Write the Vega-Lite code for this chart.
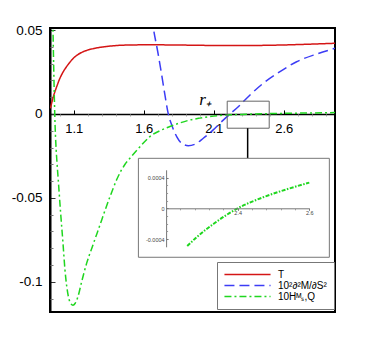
{
  "$schema": "https://vega.github.io/schema/vega-lite/v6.json",
  "width": 285,
  "height": 284,
  "autosize": {"type": "none"},
  "padding": {"left": 50, "top": 28, "right": 47, "bottom": 28},
  "background": "white",
  "config": {"view": {"stroke": "black", "strokeWidth": 2}, "font": "Liberation Sans"},
  "layer": [
    {
      "data": {"values": [
        {"r": 0.933, "v": 0.0034, "s": "T"},
        {"r": 0.954, "v": 0.0103, "s": "T"},
        {"r": 0.978, "v": 0.0163, "s": "T"},
        {"r": 1.001, "v": 0.0213, "s": "T"},
        {"r": 1.025, "v": 0.0252, "s": "T"},
        {"r": 1.061, "v": 0.0296, "s": "T"},
        {"r": 1.096, "v": 0.0331, "s": "T"},
        {"r": 1.132, "v": 0.0355, "s": "T"},
        {"r": 1.18, "v": 0.0375, "s": "T"},
        {"r": 1.251, "v": 0.0391, "s": "T"},
        {"r": 1.346, "v": 0.0403, "s": "T"},
        {"r": 1.466, "v": 0.041, "s": "T"},
        {"r": 1.644, "v": 0.0412, "s": "T"},
        {"r": 1.9, "v": 0.041, "s": "T"},
        {"r": 2.12, "v": 0.0408, "s": "T"},
        {"r": 2.36, "v": 0.0408, "s": "T"},
        {"r": 2.6, "v": 0.0411, "s": "T"},
        {"r": 2.8, "v": 0.0416, "s": "T"},
        {"r": 2.966, "v": 0.0421, "s": "T"},
        {"r": 1.655, "v": 0.058, "s": "D"},
        {"r": 1.668, "v": 0.0512, "s": "D"},
        {"r": 1.704, "v": 0.0351, "s": "D"},
        {"r": 1.728, "v": 0.0232, "s": "D"},
        {"r": 1.751, "v": 0.0113, "s": "D"},
        {"r": 1.775, "v": 0.0, "s": "D"},
        {"r": 1.799, "v": -0.0065, "s": "D"},
        {"r": 1.835, "v": -0.0135, "s": "D"},
        {"r": 1.871, "v": -0.0175, "s": "D"},
        {"r": 1.918, "v": -0.0189, "s": "D"},
        {"r": 1.966, "v": -0.018, "s": "D"},
        {"r": 2.025, "v": -0.0145, "s": "D"},
        {"r": 2.096, "v": -0.0095, "s": "D"},
        {"r": 2.156, "v": -0.0046, "s": "D"},
        {"r": 2.216, "v": 0.0, "s": "D"},
        {"r": 2.275, "v": 0.0043, "s": "D"},
        {"r": 2.359, "v": 0.0113, "s": "D"},
        {"r": 2.454, "v": 0.0183, "s": "D"},
        {"r": 2.573, "v": 0.0252, "s": "D"},
        {"r": 2.692, "v": 0.0311, "s": "D"},
        {"r": 2.835, "v": 0.0357, "s": "D"},
        {"r": 2.966, "v": 0.0391, "s": "D"},
        {"r": 0.947, "v": 0.065, "s": "H"},
        {"r": 0.951, "v": 0.0512, "s": "H"},
        {"r": 0.956, "v": 0.03, "s": "H"},
        {"r": 0.961, "v": 0.01, "s": "H"},
        {"r": 0.966, "v": -0.006, "s": "H"},
        {"r": 0.972, "v": -0.018, "s": "H"},
        {"r": 0.98, "v": -0.029, "s": "H"},
        {"r": 0.989, "v": -0.0393, "s": "H"},
        {"r": 1.006, "v": -0.0591, "s": "H"},
        {"r": 1.021, "v": -0.075, "s": "H"},
        {"r": 1.037, "v": -0.0929, "s": "H"},
        {"r": 1.061, "v": -0.1087, "s": "H"},
        {"r": 1.078, "v": -0.1128, "s": "H"},
        {"r": 1.094, "v": -0.114, "s": "H"},
        {"r": 1.11, "v": -0.1128, "s": "H"},
        {"r": 1.13, "v": -0.1088, "s": "H"},
        {"r": 1.156, "v": -0.1, "s": "H"},
        {"r": 1.192, "v": -0.0889, "s": "H"},
        {"r": 1.235, "v": -0.0785, "s": "H"},
        {"r": 1.275, "v": -0.069, "s": "H"},
        {"r": 1.359, "v": -0.0492, "s": "H"},
        {"r": 1.41, "v": -0.0385, "s": "H"},
        {"r": 1.466, "v": -0.03, "s": "H"},
        {"r": 1.501, "v": -0.0264, "s": "H"},
        {"r": 1.573, "v": -0.0195, "s": "H"},
        {"r": 1.644, "v": -0.0135, "s": "H"},
        {"r": 1.72, "v": -0.0098, "s": "H"},
        {"r": 1.787, "v": -0.0075, "s": "H"},
        {"r": 1.86, "v": -0.0053, "s": "H"},
        {"r": 1.93, "v": -0.0036, "s": "H"},
        {"r": 2.0, "v": -0.0025, "s": "H"},
        {"r": 2.073, "v": -0.0016, "s": "H"},
        {"r": 2.2, "v": -0.0006, "s": "H"},
        {"r": 2.3, "v": -0.0003, "s": "H"},
        {"r": 2.4, "v": 0.0, "s": "H"},
        {"r": 2.6, "v": 0.00033, "s": "H"},
        {"r": 2.8, "v": 0.0006, "s": "H"},
        {"r": 2.966, "v": 0.0008, "s": "H"}
      ]},
      "layer": [
        {
          "mark": {"type": "line", "clip": true, "strokeWidth": 1.5, "interpolate": "monotone"},
          "encoding": {
            "x": {"field": "r", "type": "quantitative",
              "scale": {"domain": [0.93, 2.966], "nice": false, "zero": false},
              "axis": {"orient": "bottom", "offset": -198.06,
                "values": [1.1, 1.6, 2.1, 2.6], "format": ".1f",
                "labelOverlap": false, "labelFlush": false, "labelBound": false,
                "labelFontSize": 13, "labelColor": "black", "labelPadding": 13,
                "domainColor": "black", "domainWidth": 1.5,
                "tickColor": "black", "tickSize": -4, "tickWidth": 1,
                "grid": false,
                "title": "r₊", "titleFont": "Liberation Serif", "titleFontStyle": "italic", "titleFontWeight": "normal",
                "titleFontSize": 17, "titleX": 155, "titleY": -9, "titleAlign": "center", "titleBaseline": "alphabetic", "titleColor": "black"}},
            "y": {"field": "v", "type": "quantitative",
              "scale": {"domain": [-0.118, 0.0512], "nice": false, "zero": false},
              "axis": {"orient": "left",
                "values": [-0.1, -0.05, 0, 0.05],
                "labelExpr": "replace(format(datum.value, '~g'), '−', '-')",
                "labelOverlap": false, "labelFlush": false, "labelBound": false,
                "labelFontSize": 13.5, "labelColor": "black", "labelPadding": 13,
                "domainColor": "black", "domainWidth": 2,
                "tickColor": "#333333", "tickSize": -5,
                "grid": false, "title": null}},
            "color": {"field": "s", "type": "nominal",
              "scale": {"domain": ["T", "D", "H"], "range": ["#d41515", "#3c3cf5", "#1fd61f"]},
              "legend": {"orient": "none", "legendX": 167, "legendY": 234, "title": null,
                "fillColor": "white", "strokeColor": "#777777", "padding": 7,
                "symbolType": "M-5,0H5", "symbolSize": 85, "symbolStrokeWidth": 1.5, "symbolOffset": 18,
                "labelFontSize": 10, "labelColor": "black", "labelOffset": 25, "rowPadding": 0,
                "labelExpr": "datum.value == 'T' ? 'T' : datum.value == 'D' ? '10²∂²M/∂S²' : '10Hᴹₛ,Q'"}},
            "strokeDash": {"field": "s", "type": "nominal",
              "scale": {"domain": ["T", "D", "H"], "range": [[1, 0], [10, 5], [7, 3, 2, 3]]}}
          }
        },
        {
          "data": {"values": [{}]},
          "mark": {"type": "rect", "fill": null, "fillOpacity": 0, "stroke": "#666666", "strokeWidth": 1},
          "encoding": {
            "x": {"datum": 2.196, "type": "quantitative"},
            "x2": {"datum": 2.496},
            "y": {"datum": 0.0076, "type": "quantitative"},
            "y2": {"datum": -0.0085}
          }
        },
        {
          "data": {"values": [{}]},
          "mark": {"type": "rule", "color": "black", "strokeWidth": 1.5},
          "encoding": {
            "x": {"datum": 2.342, "type": "quantitative"},
            "y": {"datum": -0.0085, "type": "quantitative"},
            "y2": {"datum": -0.0264}
          }
        }
      ]
    },
    {
      "data": {"values": [{}]},
      "mark": {"type": "point", "opacity": 0},
      "encoding": {
        "x": {"datum": 2.0, "type": "quantitative",
          "scale": {"domain": [0.93, 2.966], "nice": false, "zero": false},
          "axis": {"orient": "bottom", "offset": -198.06,
            "values": [1.0, 1.2, 1.3, 1.4, 1.5, 1.7, 1.8, 1.9, 2.0, 2.2, 2.3, 2.4, 2.5, 2.7, 2.8, 2.9],
            "labels": false, "domain": false, "grid": false, "title": null,
            "tickColor": "#999999", "tickSize": 2}},
        "y": {"datum": 0, "type": "quantitative",
          "scale": {"domain": [-0.118, 0.0512], "nice": false, "zero": false},
          "axis": {"orient": "left",
            "values": [-0.11, -0.09, -0.08, -0.07, -0.06, -0.04, -0.03, -0.02, -0.01, 0.01, 0.02, 0.03, 0.04],
            "labels": false, "domain": false, "grid": false, "title": null,
            "tickColor": "#777777", "tickSize": -3}}
      }
    },
    {
      "data": {"values": [
        {"r": 2.259, "v": -0.00049},
        {"r": 2.285, "v": -0.000377},
        {"r": 2.332, "v": -0.000204},
        {"r": 2.4, "v": 0.0},
        {"r": 2.471, "v": 0.000143},
        {"r": 2.537, "v": 0.000247},
        {"r": 2.6, "v": 0.000333}
      ]},
      "layer": [
        {
          "data": {"values": [{}]},
          "mark": {"type": "rect", "fill": "white", "stroke": "#777777", "strokeWidth": 1},
          "encoding": {
            "x": {"datum": 2.1226, "type": "quantitative"},
            "x2": {"datum": 2.656},
            "y": {"datum": 0.000649, "type": "quantitative"},
            "y2": {"datum": -0.000636}
          }
        },
        {
          "mark": {"type": "line", "strokeWidth": 2, "color": "#1fd61f", "strokeDash": [4, 1.5, 1.5, 1.5], "interpolate": "monotone"},
          "encoding": {
            "x": {"field": "r", "type": "quantitative",
              "scale": {"domain": [2.2, 2.6], "range": [116.1, 259.3], "nice": false, "zero": false},
              "axis": {"orient": "bottom", "offset": -103.7, "zindex": 1,
                "values": [2.4, 2.6], "format": ".1f",
                "labelOverlap": false, "labelFlush": false, "labelBound": false,
                "labelFontSize": 5.5, "labelColor": "#444444", "labelPadding": 0,
                "domainColor": "#777777", "domainWidth": 1, "tickColor": "#777777", "tickSize": 2,
                "grid": false, "title": null}},
            "y": {"field": "v", "type": "quantitative",
              "scale": {"domain": [-0.0005, 0.0005], "range": [218.8, 141.8], "nice": false, "zero": false},
              "axis": {"orient": "left", "offset": -116.1, "zindex": 1,
                "values": [-0.0004, 0, 0.0004],
                "labelExpr": "datum.value == 0 ? '0' : datum.value > 0 ? '0.0004' : '-0.0004'",
                "labelOverlap": false, "labelFlush": false, "labelBound": false,
                "labelFontSize": 5.5, "labelColor": "#444444", "labelPadding": 4,
                "domainColor": "#777777", "domainWidth": 1, "tickColor": "#777777", "tickSize": -2,
                "grid": false, "title": null}}
          }
        }
      ]
    },
    {
      "data": {"values": [{}]},
      "mark": {"type": "point", "opacity": 0},
      "encoding": {
        "x": {"datum": 2.4, "type": "quantitative",
          "scale": {"domain": [2.2, 2.6], "range": [116.1, 259.3], "nice": false, "zero": false},
          "axis": {"orient": "bottom", "offset": -103.7, "zindex": 1,
            "values": [2.24, 2.28, 2.32, 2.36, 2.44, 2.48, 2.52, 2.56],
            "labels": false, "domain": false, "grid": false, "title": null,
            "tickColor": "#999999", "tickSize": 1.5}},
        "y": {"datum": 0, "type": "quantitative",
          "scale": {"domain": [-0.0005, 0.0005], "range": [218.8, 141.8], "nice": false, "zero": false},
          "axis": {"orient": "left", "offset": -116.1, "zindex": 1,
            "values": [-0.0003, -0.0002, -0.0001, 0.0001, 0.0002, 0.0003],
            "labels": false, "domain": false, "grid": false, "title": null,
            "tickColor": "#999999", "tickSize": -1.5}}
      }
    }
  ],
  "resolve": {"scale": {"x": "independent", "y": "independent"}}
}
